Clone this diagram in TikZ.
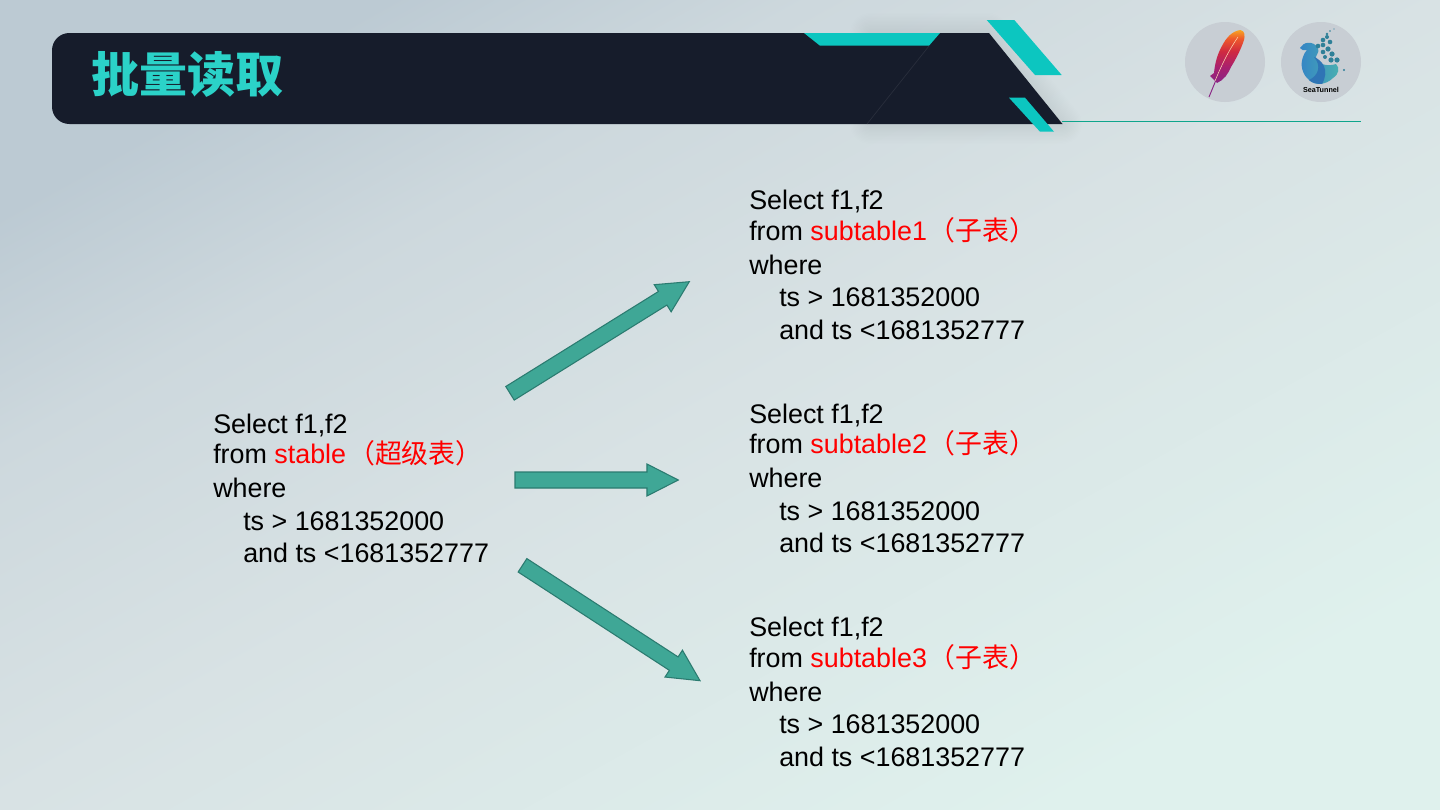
\documentclass[tikz,border=0pt]{standalone}
\usepackage{fontspec}
\setmainfont{Liberation Sans}
\newfontfamily\cjk{Noto Sans CJK SC}
\usetikzlibrary{arrows.meta,positioning,calc}

\definecolor{bgtl}{HTML}{BCCAD3}
\definecolor{bgone}{HTML}{CDD8DD}
\definecolor{bgmid}{HTML}{D8E2E4}
\definecolor{bgbr}{HTML}{DFF1ED}
\definecolor{barcolor}{HTML}{161C2B}
\definecolor{barteal}{HTML}{0CC6C0}
\definecolor{titleteal}{HTML}{2BD2C8}
\definecolor{ruleteal}{HTML}{0FA58C}
\definecolor{arrowfill}{HTML}{3FA796}
\definecolor{arrowline}{HTML}{2B7B70}
\definecolor{logogrey}{HTML}{C8CED4}
\definecolor{featherone}{HTML}{8A2585}
\definecolor{feathertwo}{HTML}{A8206F}
\definecolor{featherthree}{HTML}{D02A40}
\definecolor{featherfour}{HTML}{EE5A2A}
\definecolor{featherfive}{HTML}{F7A523}
\definecolor{blobleft}{HTML}{3585C5}
\definecolor{blobright}{HTML}{4AB0B0}
\definecolor{blobdark}{HTML}{2F74B5}
\definecolor{blobdot}{HTML}{2F8098}
\pgfdeclareverticalshading{slidefill}{100bp}{color(0bp)=(bgbr); color(25bp)=(bgbr); color(50bp)=(bgmid); color(65bp)=(bgone); color(75bp)=(bgtl); color(100bp)=(bgtl)}
\pgfdeclareverticalshading{featherfill}{100bp}{color(0bp)=(featherone); color(25bp)=(featherone); color(40bp)=(feathertwo); color(55bp)=(featherthree); color(67bp)=(featherfour); color(75bp)=(featherfive); color(100bp)=(featherfive)}

\newcommand{\sqltext}[2]{Select f1,f2\\[-1.5pt]from \textcolor{red}{#1{\cjk\hspace{1.5pt}（#2）}}\\[1pt]where\\\hspace*{22.5pt}ts > 1681352000\\\hspace*{22.5pt}and ts <1681352777}

\begin{document}
\begin{tikzpicture}[
        x=0.75pt, y=-0.75pt,
        sqlblock/.style={inner sep=0pt, anchor=north west, align=left, text=black, font=\fontsize{20.15}{24.4}\selectfont},
        blockarrow/.style={draw=arrowline, line width=0.8pt, fill=arrowfill, line join=miter, to path={
            -- ($(\tikztostart)!6pt!90:(\tikztotarget)$)
            -- ($(\tikztotarget)!23.5pt!(\tikztostart)!6pt!90:(\tikztotarget)$)
            -- ($(\tikztotarget)!23.5pt!(\tikztostart)!12pt!90:(\tikztotarget)$)
            -- (\tikztotarget)
            -- ($(\tikztotarget)!23.5pt!(\tikztostart)!12pt!-90:(\tikztotarget)$)
            -- ($(\tikztotarget)!23.5pt!(\tikztostart)!6pt!-90:(\tikztotarget)$)
            -- ($(\tikztostart)!6pt!-90:(\tikztotarget)$)
            -- cycle}},
        logodisc/.style={circle, fill=logogrey, minimum size=60pt, inner sep=0pt}
    ]
        % background
        \useasboundingbox (0,0) rectangle (1440,810);
        \shade[shading=slidefill, shading angle=29] (0,0) rectangle (1440,810);

        % header bar
        \foreach \w in {30,28,...,2}
            \draw[line width=\w pt, black, opacity=.003, line join=round] (870,33) -- (988,33) -- (1062,124) -- (870,124) -- cycle;
        \fill[barcolor] (1062.5,124) [rounded corners=13pt] -- (52,124) -- (52,33) -- (800,33) [sharp corners] -- (989,33) -- cycle;
        \draw[barcolor!92!white, line width=0.5pt] (929,46) -- (867,124);
        \fill[barteal] (804,33) -- (940,33) -- (929,45.7) -- (820,45.7) -- cycle;
        \fill[barteal] (986.7,20) -- (1014.3,20) -- (1061.7,75) -- (1035,75) -- cycle;
        \fill[barteal] (1009,97.7) -- (1025,97.7) -- (1054,131.7) -- (1040,131.7) -- cycle;
        \fill[ruleteal] (1062,120.8) rectangle (1361,122.4);
        \node[text=titleteal, font={\fontsize{36}{40}\cjk\bfseries}, anchor=west, inner sep=0pt] (title) at (91,74.5) {批量读取};

        % logos
        \node[logodisc] (apache) at (1225,62) {};
        \node[logodisc] (seatunnel) at (1321,62) {};
        \draw[featherone, line width=0.7pt] (1216,80) -- (1209,97);
        \shade[shading=featherfill] (1240.5,30) .. controls (1245,31) and (1245,36) .. (1244,40)
            .. controls (1241,49) and (1236,59) .. (1231,67) .. controls (1228,74) and (1224,80) .. (1217,83)
            -- (1210,76) -- (1214,73) .. controls (1215,62) and (1218,53) .. (1222,46) .. controls (1226,38) and (1232,31) .. (1240.5,30) -- cycle;
        \draw[orange!30!white, line width=0.4pt] (1215,81) .. controls (1222,64) and (1229,50) .. (1238,37);

        \shade[left color=blobleft, right color=blobright] (1300,48)
            .. controls (1303,42) and (1313,40) .. (1318,48) .. controls (1320,53) and (1315,55) .. (1316,59)
            .. controls (1320,66) and (1330,66) .. (1336,64) .. controls (1340,68) and (1339,74) .. (1333,78)
            .. controls (1326,85) and (1315,86) .. (1309,80) .. controls (1302,74) and (1300,65) .. (1303,57)
            .. controls (1304,54) and (1305,52) .. (1307,50) .. controls (1304,51) and (1301,50) .. (1300,48) -- cycle;
        \fill[blobdark] (1309,80) .. controls (1318,76) and (1322,66) .. (1314,57) .. controls (1322,60) and (1330,70) .. (1322,84) .. controls (1317,84) and (1312,83) .. (1309,80) -- cycle;
        \foreach \dx/\dy/\r in {1323/40/2.3,1327/37/2,1330/42/2.3,1323/45/2.3,1318/46/2.3,1328/49/2.6,1323/52/2.3,1332/54/2.6,1331/60/2.6,1337/60/2.6,1325/57/2,1330/31/.9,1334/29/.7,1327/34/1.4,1344/70/1.1}
            \fill[blobdot] (\dx,\dy) circle[radius=\r];
        \node[font=\fontsize{5.4}{6}\selectfont\bfseries, inner sep=0pt] (seatunnelname) at (1321,89.7) {SeaTunnel};

        % sql blocks
        \node[sqlblock] (stable) at (213,413.5) {\sqltext{stable}{超级表}};
        \node[sqlblock] (subtableone) at (749,190) {\sqltext{subtable1}{子表}};
        \node[sqlblock, below=47.8pt of subtableone.south west, anchor=north west] (subtabletwo) {\sqltext{subtable2}{子表}};
        \node[sqlblock, below=47.8pt of subtabletwo.south west, anchor=north west] (subtablethree) {\sqltext{subtable3}{子表}};

        % arrows
        \coordinate (upstart) at (510,393.3);
        \coordinate (upend) at (689.3,281.7);
        \coordinate (midstart) at (515,480);
        \coordinate (midend) at (678.3,480);
        \coordinate (downstart) at (522.5,565.3);
        \coordinate (downend) at (700,680.7);
        \draw[blockarrow] (upstart) to (upend);
        \draw[blockarrow] (midstart) to (midend);
        \draw[blockarrow] (downstart) to (downend);
    \end{tikzpicture}
\end{document}
